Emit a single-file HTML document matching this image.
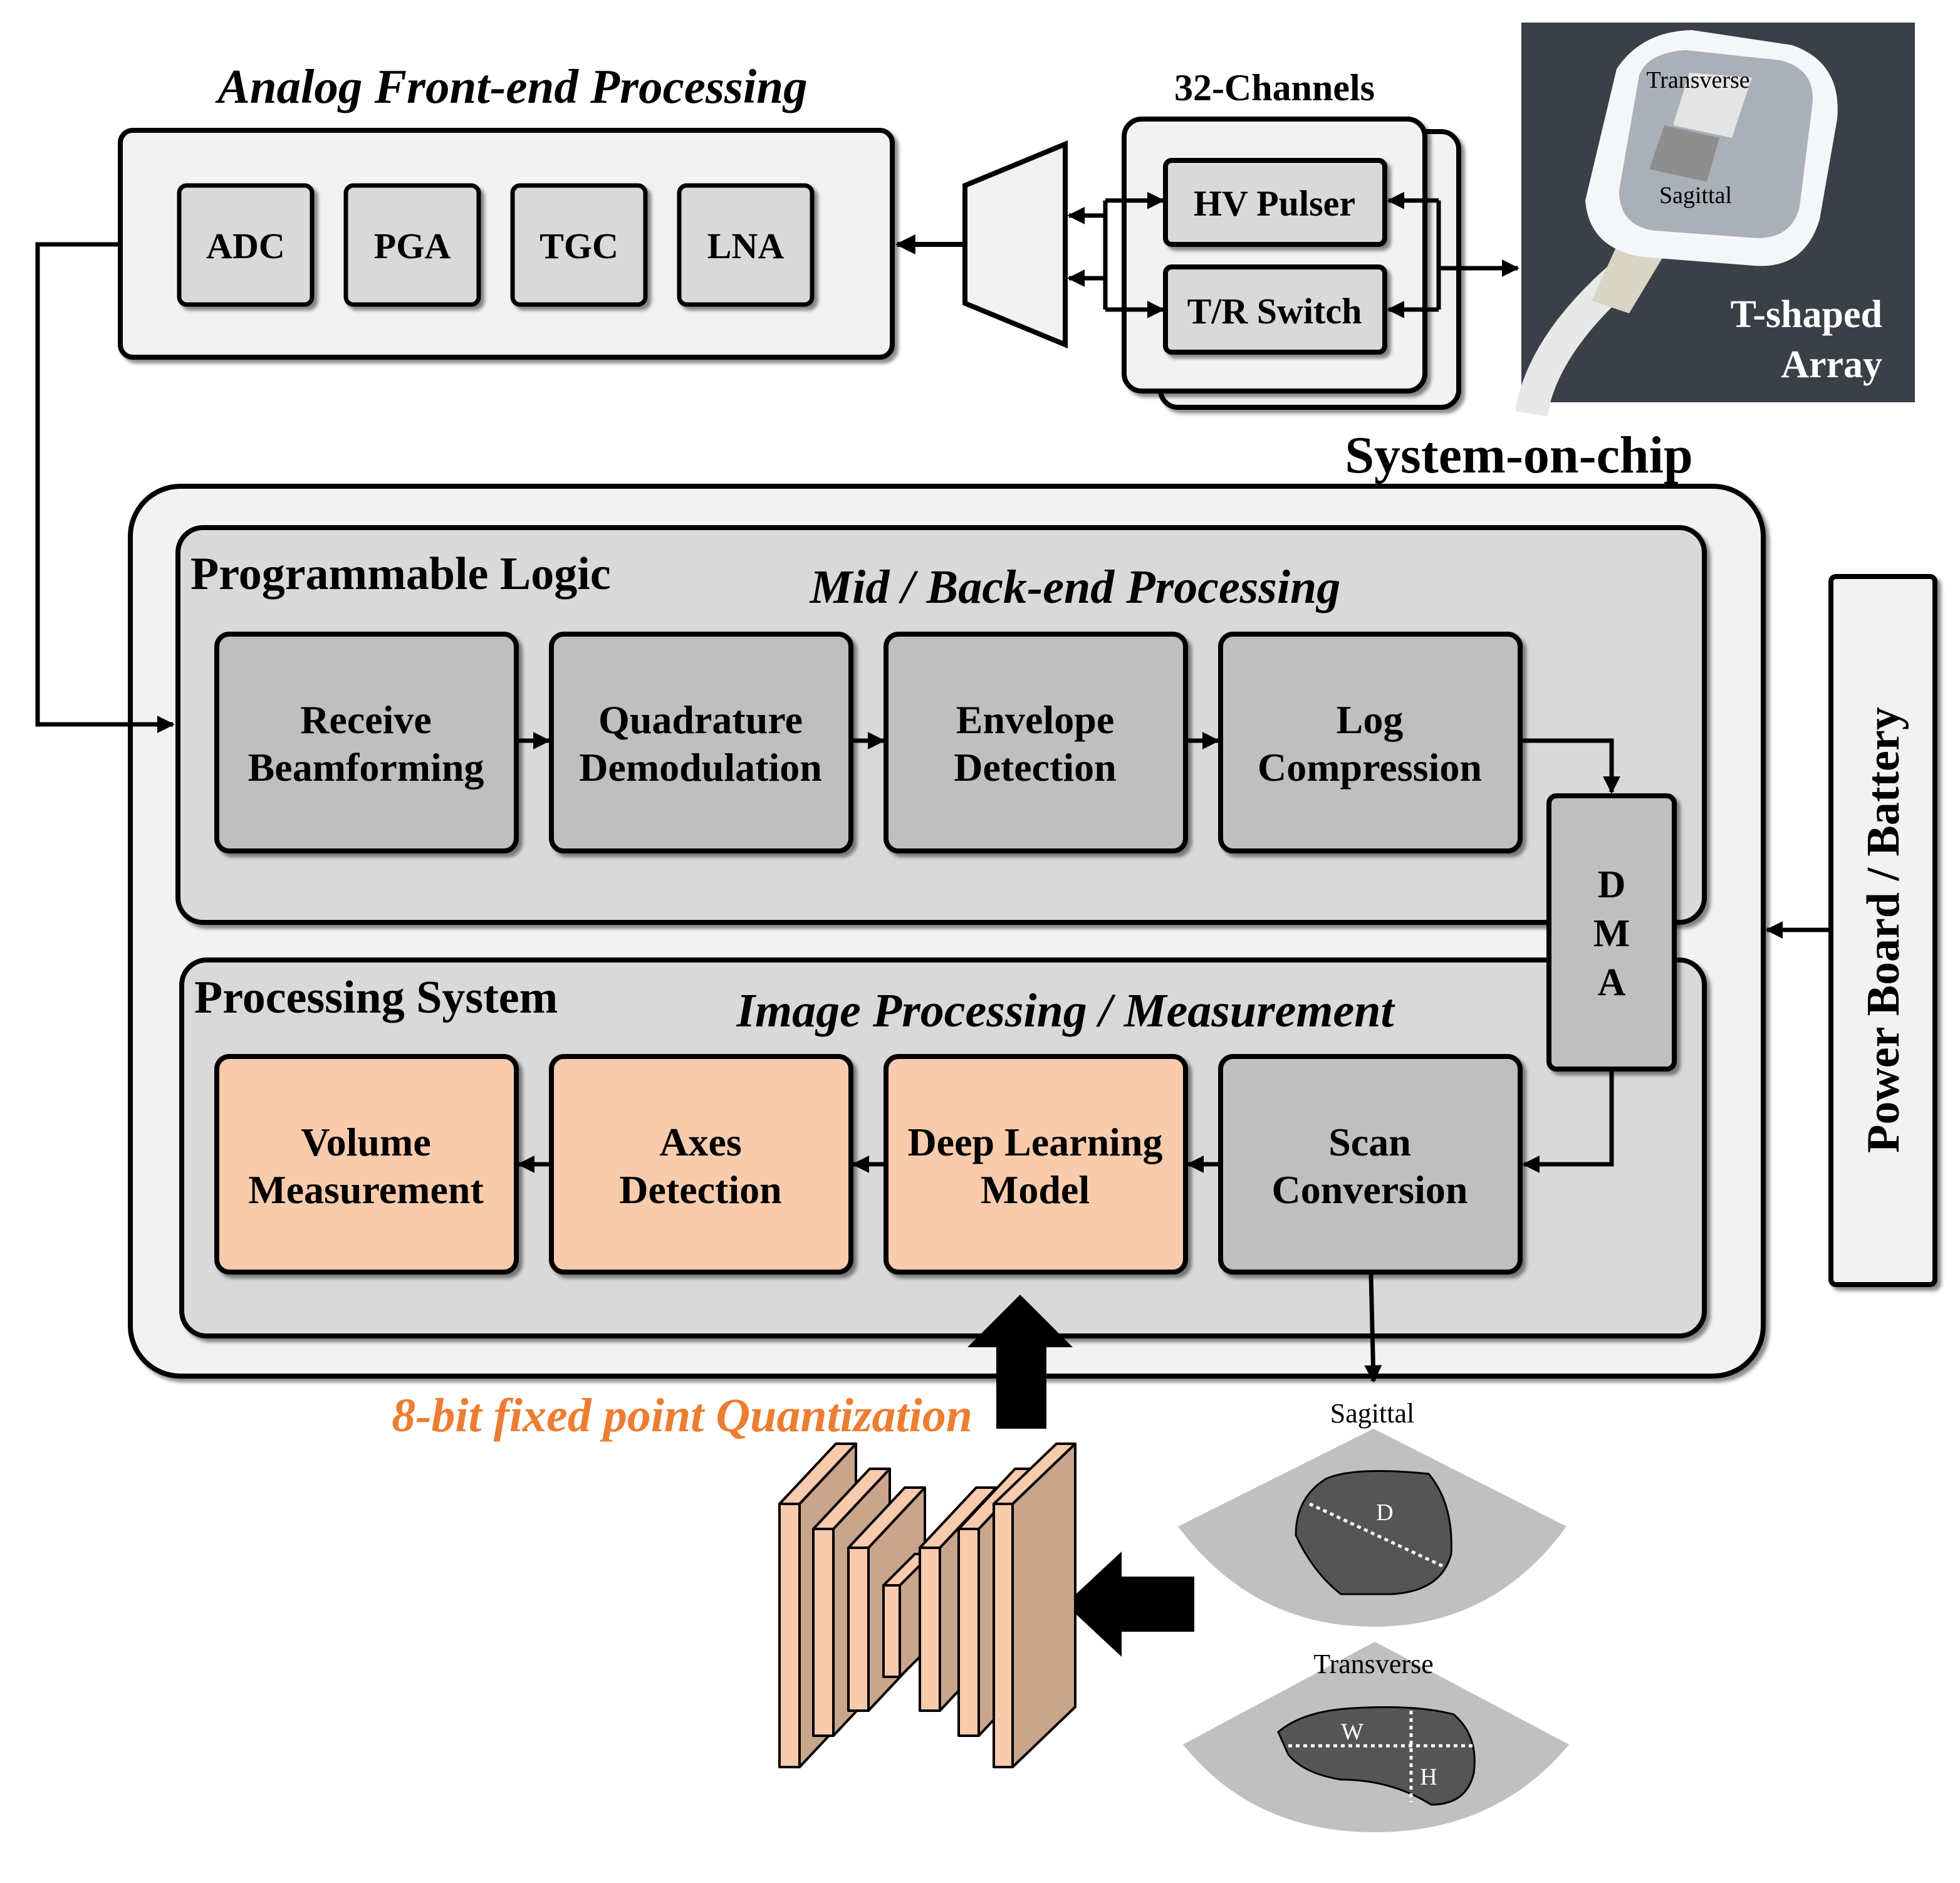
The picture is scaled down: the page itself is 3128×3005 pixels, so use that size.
<!DOCTYPE html>
<html><head><meta charset="utf-8"><style>
html,body{margin:0;padding:0;background:#fff}
svg{display:block}
text{font-family:"Liberation Serif",serif;font-weight:bold;fill:#000}
text.n{font-weight:normal}
</style></head><body>
<svg width="3128" height="3005" viewBox="0 0 1564 1502.5" xmlns="http://www.w3.org/2000/svg">
<defs>
<marker id="ah" viewBox="0 0 10 10" refX="9" refY="5" markerWidth="4" markerHeight="4" orient="auto"><path d="M0,0 L10,5 L0,10 Z" fill="#000"/></marker>
<filter id="sh" x="-10%" y="-10%" width="130%" height="130%"><feDropShadow dx="3" dy="3" stdDeviation="1.5" flood-color="#000" flood-opacity="0.45"/></filter>
</defs>

<!-- Analog front end -->
<text x="409" y="82" font-size="38.5" font-style="italic" text-anchor="middle">Analog Front-end Processing</text>
<rect x="96" y="104" width="616" height="181" rx="10" fill="#f2f2f2" stroke="#000" stroke-width="4" filter="url(#sh)"/>
<g font-size="29" text-anchor="middle">
<rect x="143" y="148" width="106" height="95" rx="6" fill="#d9d9d9" stroke="#000" stroke-width="3.5" filter="url(#sh)"/><text x="196" y="206">ADC</text>
<rect x="276" y="148" width="106" height="95" rx="6" fill="#d9d9d9" stroke="#000" stroke-width="3.5" filter="url(#sh)"/><text x="329" y="206">PGA</text>
<rect x="409" y="148" width="106" height="95" rx="6" fill="#d9d9d9" stroke="#000" stroke-width="3.5" filter="url(#sh)"/><text x="462" y="206">TGC</text>
<rect x="542" y="148" width="106" height="95" rx="6" fill="#d9d9d9" stroke="#000" stroke-width="3.5" filter="url(#sh)"/><text x="595" y="206">LNA</text>
</g>
<line x1="770" y1="195" x2="716" y2="195" stroke="#000" stroke-width="4" marker-end="url(#ah)"/>
<polygon points="770,148 850,115 850,275 770,242" fill="#f2f2f2" stroke="#000" stroke-width="4"/>

<!-- 32 channels -->
<text x="1017" y="80" font-size="30" text-anchor="middle">32-Channels</text>
<rect x="926" y="105" width="238" height="220" rx="14" fill="#f2f2f2" stroke="#000" stroke-width="4" filter="url(#sh)"/>
<rect x="897" y="95" width="240" height="217" rx="14" fill="#f2f2f2" stroke="#000" stroke-width="4" filter="url(#sh)"/>
<rect x="930" y="128" width="175" height="67" rx="5" fill="#d9d9d9" stroke="#000" stroke-width="4" filter="url(#sh)"/>
<text x="1017" y="172" font-size="29" text-anchor="middle">HV Pulser</text>
<rect x="930" y="213" width="175" height="68" rx="5" fill="#d9d9d9" stroke="#000" stroke-width="4" filter="url(#sh)"/>
<text x="1017" y="258" font-size="29" text-anchor="middle">T/R Switch</text>
<g stroke="#000" stroke-width="3.5" fill="none">
<line x1="882" y1="172" x2="853" y2="172" marker-end="url(#ah)"/>
<line x1="882" y1="222" x2="853" y2="222" marker-end="url(#ah)"/>
<line x1="882" y1="160" x2="882" y2="247"/>
<line x1="882" y1="160" x2="928" y2="160" marker-end="url(#ah)"/>
<line x1="882" y1="247" x2="928" y2="247" marker-end="url(#ah)"/>
<line x1="1148" y1="160" x2="1148" y2="247"/>
<line x1="1148" y1="160" x2="1108" y2="160" marker-end="url(#ah)"/>
<line x1="1148" y1="247" x2="1108" y2="247" marker-end="url(#ah)"/>
<line x1="1148" y1="214" x2="1211" y2="214" marker-end="url(#ah)"/>
</g>

<!-- Photo -->
<rect x="1214" y="18" width="314" height="303" fill="#3b3f47"/>
<path d="M1222,330 C1228,290 1258,250 1300,215" stroke="#e8e8e8" stroke-width="26" fill="none"/>
<path d="M1270,240 L1292,192 L1330,200 L1300,250 Z" fill="#d8d5c5"/>
<path d="M1290,55 Q1310,25 1350,24 L1430,36 Q1470,50 1466,95 L1452,175 Q1440,215 1400,212 L1310,205 Q1268,198 1265,160 Z" fill="#f4f6f8"/>
<path d="M1308,60 Q1315,42 1345,40 L1420,48 Q1450,55 1446,85 L1436,165 Q1430,190 1402,190 L1320,184 Q1292,180 1292,152 Z" fill="#aab0b8"/>
<polygon points="1348,58 1398,62 1382,110 1335,100" fill="#e4e4e4"/>
<polygon points="1328,100 1372,110 1362,145 1316,135" fill="#8e8e8e"/>
<text class="n" x="1355" y="70" font-size="19" text-anchor="middle">Transverse</text>
<text class="n" x="1353" y="162" font-size="19" text-anchor="middle">Sagittal</text>
<text x="1502" y="261" font-size="31" text-anchor="end" style="fill:#fff">T-shaped</text>
<text x="1502" y="301" font-size="31" text-anchor="end" style="fill:#fff">Array</text>

<!-- SoC -->
<text x="1212" y="377" font-size="42" text-anchor="middle">System-on-chip</text>
<rect x="104" y="388" width="1303" height="710" rx="40" fill="#f2f2f2" stroke="#000" stroke-width="4" filter="url(#sh)"/>
<rect x="142" y="421" width="1218" height="315" rx="20" fill="#d9d9d9" stroke="#000" stroke-width="4" filter="url(#sh)"/>
<polyline points="96,195 30,195 30,578 138,578" fill="none" stroke="#000" stroke-width="3.5" marker-end="url(#ah)"/>
<text x="152" y="470" font-size="37">Programmable  Logic</text>
<text x="858" y="481" font-size="38" font-style="italic" text-anchor="middle">Mid / Back-end Processing</text>
<g font-size="32" text-anchor="middle">
<rect x="173" y="506" width="239" height="173" rx="10" fill="#bfbfbf" stroke="#000" stroke-width="4" filter="url(#sh)"/>
<text x="292" y="585">Receive</text><text x="292" y="623">Beamforming</text>
<rect x="440" y="506" width="239" height="173" rx="10" fill="#bfbfbf" stroke="#000" stroke-width="4" filter="url(#sh)"/>
<text x="559" y="585">Quadrature</text><text x="559" y="623">Demodulation</text>
<rect x="707" y="506" width="239" height="173" rx="10" fill="#bfbfbf" stroke="#000" stroke-width="4" filter="url(#sh)"/>
<text x="826" y="585">Envelope</text><text x="826" y="623">Detection</text>
<rect x="974" y="506" width="239" height="173" rx="10" fill="#bfbfbf" stroke="#000" stroke-width="4" filter="url(#sh)"/>
<text x="1093" y="585">Log</text><text x="1093" y="623">Compression</text>
</g>
<g stroke="#000" stroke-width="3.5" fill="none">
<line x1="414" y1="591" x2="438" y2="591" marker-end="url(#ah)"/>
<line x1="681" y1="591" x2="705" y2="591" marker-end="url(#ah)"/>
<line x1="948" y1="591" x2="972" y2="591" marker-end="url(#ah)"/>
<polyline points="1215,591 1286,591 1286,632" marker-end="url(#ah)"/>
</g>

<rect x="145" y="766" width="1215" height="300" rx="20" fill="#d9d9d9" stroke="#000" stroke-width="4" filter="url(#sh)"/>
<text x="155" y="808" font-size="37">Processing System</text>
<text x="850" y="819" font-size="38" font-style="italic" text-anchor="middle">Image Processing / Measurement</text>
<g font-size="32" text-anchor="middle">
<rect x="173" y="843" width="239" height="172" rx="10" fill="#f8cbad" stroke="#000" stroke-width="4" filter="url(#sh)"/>
<text x="292" y="922">Volume</text><text x="292" y="960">Measurement</text>
<rect x="440" y="843" width="239" height="172" rx="10" fill="#f8cbad" stroke="#000" stroke-width="4" filter="url(#sh)"/>
<text x="559" y="922">Axes</text><text x="559" y="960">Detection</text>
<rect x="707" y="843" width="239" height="172" rx="10" fill="#f8cbad" stroke="#000" stroke-width="4" filter="url(#sh)"/>
<text x="826" y="922">Deep Learning</text><text x="826" y="960">Model</text>
<rect x="974" y="843" width="239" height="172" rx="10" fill="#bfbfbf" stroke="#000" stroke-width="4" filter="url(#sh)"/>
<text x="1093" y="922">Scan</text><text x="1093" y="960">Conversion</text>
</g>
<rect x="1236" y="635" width="100" height="218" rx="6" fill="#bfbfbf" stroke="#000" stroke-width="4" filter="url(#sh)"/>
<g font-size="31" text-anchor="middle"><text x="1286" y="716">D</text><text x="1286" y="755">M</text><text x="1286" y="794">A</text></g>
<g stroke="#000" stroke-width="3.5" fill="none">
<polyline points="1286,853 1286,929 1216,929" marker-end="url(#ah)"/>
<line x1="972" y1="929" x2="948" y2="929" marker-end="url(#ah)"/>
<line x1="705" y1="929" x2="681" y2="929" marker-end="url(#ah)"/>
<line x1="438" y1="929" x2="414" y2="929" marker-end="url(#ah)"/>
<polyline points="1094,1017 1096,1102" marker-end="url(#ah)"/>
<line x1="1461" y1="742" x2="1410" y2="742" marker-end="url(#ah)"/>
</g>

<!-- Power board -->
<rect x="1461" y="460" width="83" height="565" rx="4" fill="#f2f2f2" stroke="#000" stroke-width="4" filter="url(#sh)"/>
<text transform="translate(1515,742) rotate(-90)" font-size="37" text-anchor="middle">Power Board / Battery</text>

<!-- Big arrows -->
<polygon points="814,1033 856,1075 835,1075 835,1140 795,1140 795,1075 772,1075" fill="#000"/>
<polygon points="850,1280 895,1238 895,1258 953,1258 953,1302 895,1302 895,1322" fill="#000"/>
<text x="776" y="1142" font-size="38" font-style="italic" text-anchor="end" style="fill:#ed7d31">8-bit fixed point Quantization</text>

<!-- CNN slabs -->
<g stroke="#000" stroke-width="2" stroke-linejoin="round">
<g><polygon points="638,1200 683,1152 683,1362 638,1410" fill="#c9a58c"/><polygon points="622,1200 638,1200 683,1152 667,1152" fill="#f8cbad"/><rect x="622" y="1200" width="16" height="210" fill="#f8cbad"/></g>
<g><polygon points="665,1220 710,1172 710,1337 665,1385" fill="#c9a58c"/><polygon points="649,1220 665,1220 710,1172 694,1172" fill="#f8cbad"/><rect x="649" y="1220" width="16" height="165" fill="#f8cbad"/></g>
<g><polygon points="693,1235 738,1187 738,1317 693,1365" fill="#c9a58c"/><polygon points="677,1235 693,1235 738,1187 722,1187" fill="#f8cbad"/><rect x="677" y="1235" width="16" height="130" fill="#f8cbad"/></g>
<g><polygon points="718,1265 743,1240 743,1313 718,1338" fill="#c9a58c"/><polygon points="705,1265 718,1265 743,1240 730,1240" fill="#f8cbad"/><rect x="705" y="1265" width="13" height="73" fill="#f8cbad"/></g>
<g><polygon points="750,1235 795,1187 795,1317 750,1365" fill="#c9a58c"/><polygon points="734,1235 750,1235 795,1187 779,1187" fill="#f8cbad"/><rect x="734" y="1235" width="16" height="130" fill="#f8cbad"/></g>
<g><polygon points="781,1220 826,1172 826,1337 781,1385" fill="#c9a58c"/><polygon points="765,1220 781,1220 826,1172 810,1172" fill="#f8cbad"/><rect x="765" y="1220" width="16" height="165" fill="#f8cbad"/></g>
<g><polygon points="808,1200 858,1152 858,1362 808,1410" fill="#c9a58c"/><polygon points="793,1200 808,1200 858,1152 843,1152" fill="#f8cbad"/><rect x="793" y="1200" width="15" height="210" fill="#f8cbad"/></g>
</g>

<!-- Ultrasound fans -->
<path d="M1096,1140 L940,1218 Q1000,1298 1096,1298 Q1192,1298 1250,1218 Z" fill="#c0c0c0"/>
<text class="n" x="1095" y="1135" font-size="22" text-anchor="middle">Sagittal</text>
<path d="M1058,1180 Q1080,1170 1140,1176 Q1160,1200 1158,1240 Q1150,1270 1110,1272 L1070,1272 Q1048,1255 1034,1225 Q1034,1195 1058,1180 Z" fill="#555" stroke="#000" stroke-width="1.5"/>
<line x1="1045" y1="1200" x2="1152" y2="1250" stroke="#fff" stroke-width="2.5" stroke-dasharray="3,3"/>
<text class="n" x="1105" y="1213" font-size="19" text-anchor="middle" style="fill:#fff">D</text>

<path d="M1097,1310 L944,1392 Q1000,1462 1097,1462 Q1194,1462 1252,1392 Z" fill="#c0c0c0"/>
<text class="n" x="1096" y="1335" font-size="22" text-anchor="middle">Transverse</text>
<path d="M1020,1382 Q1040,1365 1080,1363 Q1130,1360 1160,1368 Q1180,1385 1176,1415 Q1170,1440 1142,1440 Q1110,1420 1070,1420 Q1040,1415 1028,1400 Z" fill="#555" stroke="#000" stroke-width="1.5"/>
<line x1="1028" y1="1393" x2="1176" y2="1393" stroke="#fff" stroke-width="2.5" stroke-dasharray="3,3"/>
<line x1="1126" y1="1365" x2="1126" y2="1438" stroke="#fff" stroke-width="2.5" stroke-dasharray="3,3"/>
<text class="n" x="1079" y="1388" font-size="19" text-anchor="middle" style="fill:#fff">W</text>
<text class="n" x="1140" y="1424" font-size="19" text-anchor="middle" style="fill:#fff">H</text>
</svg>
</body></html>
